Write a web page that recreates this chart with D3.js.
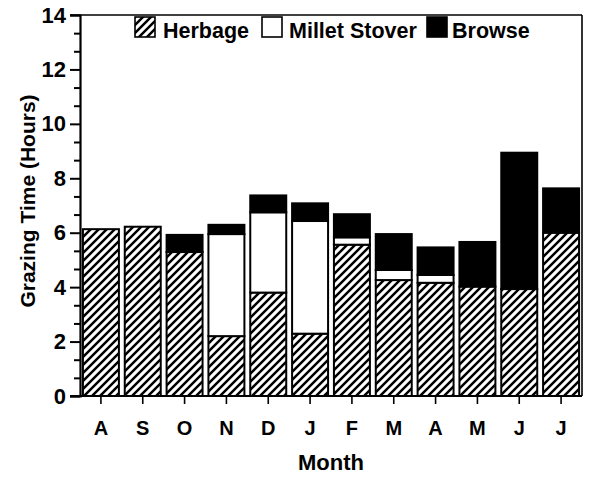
<!DOCTYPE html>
<html><head><meta charset="utf-8">
<script src="https://cdn.jsdelivr.net/npm/d3@7"></script>
<style>body{margin:0;background:#fff}svg{display:block}text{font-family:"Liberation Sans",Arial,sans-serif;font-weight:bold;fill:#000}</style>
</head><body><svg id="c" width="600" height="478"></svg>
<script>
const months = ["A","S","O","N","D","J","F","M","A","M","J","J"];
const herbage = [6.13, 6.22, 5.29, 2.20, 3.80, 2.29, 5.56, 4.26, 4.16, 4.02, 3.93, 6.00];
const millet  = [0, 0, 0, 3.75, 2.95, 4.14, 0.27, 0.37, 0.29, 0, 0, 0];
const browse  = [0, 0, 0.63, 0.34, 0.62, 0.65, 0.85, 1.32, 1.01, 1.64, 5.01, 1.63];
const seriesNames = ["Herbage","Millet Stover","Browse"];
const yTicks = [0,2,4,6,8,10,12,14];

const svg = d3.select("#c");
const L=80, R=582, T=15, B=396;
const x = d3.scaleBand().domain(d3.range(months.length)).range([L,R]).paddingInner(0.14).paddingOuter(0.07);
const y = d3.scaleLinear().domain([0,14]).range([B,T]);

const defs = svg.append("defs");
const P = 8;
const pat = defs.append("pattern").attr("id","hatch").attr("patternUnits","userSpaceOnUse")
  .attr("width",P).attr("height",P);
pat.append("rect").attr("width",P).attr("height",P).attr("fill","#fff");
pat.append("path").attr("d",`M${-P/4},${P/4} L${P/4},${-P/4} M0,${P} L${P},0 M${P*0.75},${P*1.25} L${P*1.25},${P*0.75}`)
  .attr("stroke","#000").attr("stroke-width",2.5);

const fills = ["url(#hatch)","#fff","#000"];
const rows = months.map((m,i)=>({i, v:[herbage[i],millet[i],browse[i]]}));
const g = svg.append("g");
rows.forEach(r=>{
  let base=0;
  r.v.forEach((v,k)=>{
    if(v>0){
      g.append("rect").attr("x",x(r.i)).attr("width",x.bandwidth())
        .attr("y",y(base+v)).attr("height",y(base)-y(base+v))
        .attr("fill",fills[k]).attr("stroke","#000").attr("stroke-width",2);
    }
    base+=v;
  });
});

// frame
svg.append("line").attr("x1",70).attr("x2",R).attr("y1",T).attr("y2",T).attr("stroke","#000").attr("stroke-width",1.6);
svg.append("line").attr("x1",R).attr("x2",R).attr("y1",T).attr("y2",B).attr("stroke","#000").attr("stroke-width",1.6);

// y axis
const minor = d3.range(0,14.01,2/3).filter(v=>Math.abs(v/2-Math.round(v/2))>0.01);
const ya = svg.append("g").attr("transform",`translate(${L},0)`)
  .call(d3.axisLeft(y).tickValues(yTicks).tickSize(10).tickPadding(4).tickFormat(d3.format("d")));
ya.select(".domain").attr("stroke-width",2.2);
ya.selectAll(".tick line").attr("stroke-width",2);
ya.selectAll("text").attr("font-size",22).attr("font-family","Liberation Sans").attr("font-weight","bold");
const ym = svg.append("g").attr("transform",`translate(${L},0)`)
  .call(d3.axisLeft(y).tickValues(minor).tickSize(6).tickFormat(""));
ym.select(".domain").remove();
ym.selectAll(".tick line").attr("stroke-width",2);

// x axis
const xa = svg.append("g").attr("transform",`translate(0,${B})`)
  .call(d3.axisBottom(x).tickSize(8).tickPadding(17).tickFormat(i=>months[i]));
xa.select(".domain").attr("d",`M70,0H${R}`).attr("stroke-width",2.2);
xa.selectAll(".tick line").attr("stroke-width",1.6);
xa.selectAll("text").attr("font-size",20).attr("font-family","Liberation Sans").attr("font-weight","bold");

// axis titles
svg.append("text").attr("x",(L+R)/2).attr("y",470).attr("text-anchor","middle").attr("font-size",22).text("Month");
svg.append("text").attr("transform","translate(35,201) rotate(-90)").attr("text-anchor","middle").attr("font-size",21).text("Grazing Time (Hours)");

// legend
const legX = [135, 262, 427];
const legT = [163, 289, 452];
seriesNames.forEach((n,k)=>{
  svg.append("rect").attr("x",legX[k]).attr("y",17).attr("width",20).attr("height",20)
    .attr("fill",fills[k]).attr("stroke","#000").attr("stroke-width",1.6);
  svg.append("text").attr("x",legT[k]).attr("y",38).attr("font-size",21.5).text(n);
});
</script></body></html>
